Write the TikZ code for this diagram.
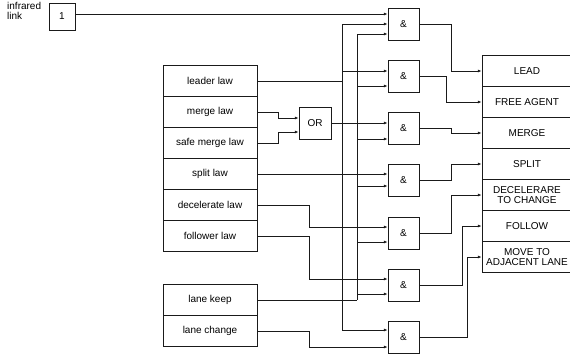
\documentclass[tikz,border=0pt]{standalone}
\usepackage{fontspec}
\setmainfont{Liberation Sans}
\usepackage{xcolor}
\usepackage{tikz}
\usetikzlibrary{arrows.meta,calc}
\definecolor{ink}{HTML}{1A1A1A}
\tikzset{
  lawbox/.style={draw=ink, align=center, fill=white, inner sep=1pt, minimum width=94pt, minimum height=31pt},
  outbox/.style={draw=ink, align=center, fill=white, inner sep=1pt, minimum width=90pt, minimum height=31pt},
  gate/.style={draw=ink, align=center, fill=white, inner sep=1pt, minimum width=31pt, minimum height=32pt},
  wire/.style={draw=ink, line width=0.8pt},
  arrow/.style={-{Latex[length=4pt,width=3pt]}, wire}
}

\begin{document}
\begin{tikzpicture}[x=1pt, y=-1pt, font=\fontsize{10}{10.5}\selectfont]
  \useasboundingbox (0,0) rectangle (570,356);

  \node[anchor=north west, align=left, inner sep=0pt] (irlabel) at (7,2) {infrared\\link};
  \node[gate, minimum width=26pt, minimum height=27pt] (one) at (62,16.5) {1};

  % behaviour laws
  \node[lawbox] (leader) at (210,81) {leader law};
  \node[lawbox] (merge) at (210,112) {merge law};
  \node[lawbox] (safe) at (210,143) {safe merge law};
  \node[lawbox] (split) at (210,174) {split law};
  \node[lawbox] (decel) at (210,205) {decelerate law};
  \node[lawbox] (follow) at (210,236) {follower law};
  \node[lawbox] (lkeep) at (210,300) {lane keep};
  \node[lawbox] (lchange) at (210,331) {lane change};

  \node[gate, minimum width=32pt] (orgate) at (315,123) {OR};
  \foreach \y [count=\i] in {24,76,128,180,233,285,337}
    \node[gate] (and\i) at (403.5,\y) {\&};

  % manoeuvres
  \node[outbox] (lead) at (527,71) {LEAD};
  \node[outbox] (free) at (527,102) {FREE AGENT};
  \node[outbox] (mergeout) at (527,133) {MERGE};
  \node[outbox] (splitout) at (527,164) {SPLIT};
  \node[outbox] (decelout) at (527,195) {DECELERARE\\TO CHANGE};
  \node[outbox] (followout) at (527,226) {FOLLOW};
  \node[outbox] (moveout) at (527,257) {MOVE TO\\ADJACENT LANE};

  % gate pins
  \coordinate (g1a) at ([yshift=10pt]and1.west);
  \coordinate (g1b) at (and1.west);
  \coordinate (g1c) at ([yshift=-10pt]and1.west);
  \coordinate (g2a) at ([yshift=5pt]and2.west);
  \coordinate (g2b) at ([yshift=-10pt]and2.west);
  \coordinate (g3a) at ([yshift=5pt]and3.west);
  \coordinate (g3b) at ([yshift=-11pt]and3.west);
  \coordinate (g4a) at ([yshift=6pt]and4.west);
  \coordinate (g4b) at ([yshift=-6pt]and4.west);
  \coordinate (g5a) at ([yshift=6pt]and5.west);
  \coordinate (g5b) at ([yshift=-9pt]and5.west);
  \coordinate (g6a) at ([yshift=6pt]and6.west);
  \coordinate (g6b) at ([yshift=-9pt]and6.west);
  \coordinate (g7a) at ([yshift=7pt]and7.west);
  \coordinate (g7b) at ([yshift=-10pt]and7.west);
  \coordinate (ora) at ([yshift=5pt]orgate.west);
  \coordinate (orb) at ([yshift=-9pt]orgate.west);

  % buses
  \coordinate (busA) at (342,0);
  \coordinate (busB) at (357,0);
  \draw[wire] (busA |- g1b) -- (busA |- g7a);
  \draw[wire] (busB |- g1c) -- (busB |- lkeep.east);
  \foreach \p in {g1b,g2a,g7a}
    \draw[arrow] (busA |- \p) -- (\p);
  \foreach \p in {g1c,g2b,g3b,g4b,g5b,g6b}
    \draw[arrow] (busB |- \p) -- (\p);
  \draw[wire] (leader.east) -- (leader.east -| busA);
  \draw[wire] (lkeep.east) -- (lkeep.east -| busB);

  \draw[arrow] (g1a -| one.east) -- (g1a);
  \draw[arrow] (merge.east) -- ++(21,0) |- (ora);
  \draw[arrow] (safe.east) -- ++(21,0) |- (orb);
  \draw[arrow] (orgate.east) -- (g3a);
  \draw[arrow] (split.east) -- (g4a);
  \draw[arrow] (decel.east) -- ++(52,0) |- (g5a);
  \draw[arrow] (follow.east) -- ++(52,0) |- (g6a);
  \draw[arrow] (lchange.east) -- ++(52,0) |- (g7b);

  \foreach \g/\o/\d in {1/lead/32, 2/free/27, 3/mergeout/32, 4/splitout/32, 5/decelout/32, 6/followout/43, 7/moveout/48}
    \draw[arrow] (and\g.east) -- ++(\d,0) |- (\o.west);
\end{tikzpicture}
\end{document}
